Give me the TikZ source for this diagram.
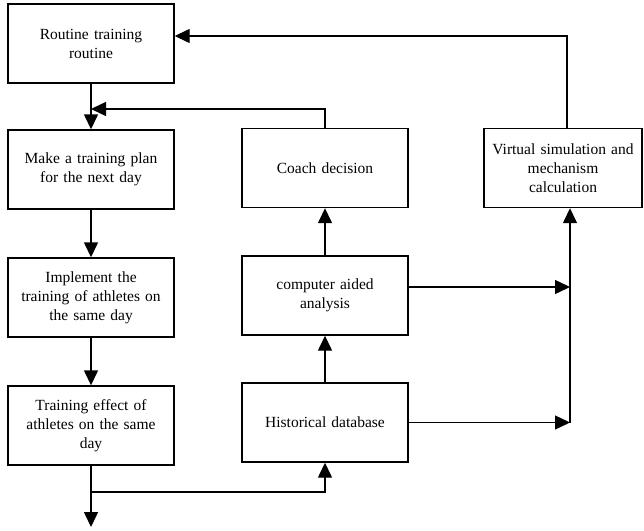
\documentclass[tikz,border=0pt]{standalone}
\usepackage{fontspec}
\setmainfont{Liberation Serif}
\usetikzlibrary{arrows.meta}
\begin{document}
\begin{tikzpicture}[x=1pt,y=-1pt,
  box/.style={draw,line width=1.4pt,minimum width=166pt,minimum height=79pt,
    inner sep=0pt,align=center,text width=162pt,
    font=\fontsize{15.5}{19}\selectfont},
  flow/.style={line width=1.4pt,-{Triangle[length=15pt,width=14pt]}},
  plain/.style={line width=1.4pt}]
\useasboundingbox (0,0) rectangle (644,530);
% left column
\node[box] (routine) at (91,43.5) {Routine training\\routine};
\node[box] (plan) at (91,169.5) {Make a training plan\\for the next day};
\node[box] (impl) at (91,297.5) {Implement the\\training of athletes on\\the same day};
\node[box] (effect) at (91,425.5) {Training effect of\\athletes on the same\\day};
% middle column
\node[box] (coach) at (325,168) {Coach decision};
\node[box] (cad) at (325,295.5) {computer aided\\analysis};
\node[box] (hist) at (325,422.5) {Historical database};
% right column
\node[box,minimum width=158pt,text width=156pt] (virt) at (563,168) {Virtual simulation and\\mechanism\\calculation};
% junction points
\coordinate (top) at (567,36);
\coordinate (fb) at (91,109);
\coordinate (out) at (91,527);
\coordinate (split) at (91,492);
\coordinate (bus) at (570,287);
% vertical flow on the left
\draw[flow] (routine) -- (plan);
\draw[flow] (plan) -- (impl);
\draw[flow] (impl) -- (effect);
\draw[flow] (effect) -- (out);
% feedback into the historical database
\draw[flow] (split) -| (hist);
% middle column upward
\draw[flow] (hist) -- (cad);
\draw[flow] (cad) -- (coach);
\draw[flow] (coach.north) |- (fb);
% analysis and history to the simulation
\draw[flow] (cad.east |- bus) -- (bus);
\draw[flow] (hist.east) -- (hist.east -| bus);
\draw[flow] (hist.east -| bus) -- (bus |- virt.south);
% simulation back to the routine
\draw[flow] (virt.north -| top) |- (routine.east |- top);
\end{tikzpicture}
\end{document}
